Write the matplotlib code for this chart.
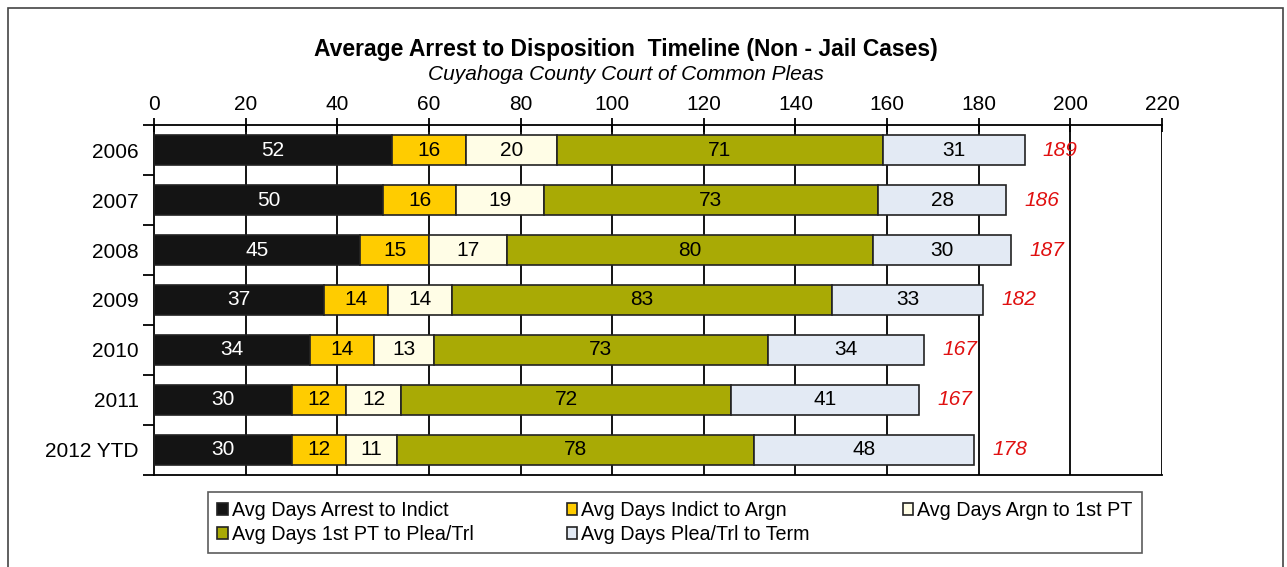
import numpy as np
import matplotlib.pyplot as plt
from matplotlib.patches import Rectangle

plt.rcParams['font.family'] = ['Liberation Sans', 'DejaVu Sans']

years = ["2006", "2007", "2008", "2009", "2010", "2011", "2012 YTD"]
arrest_to_indict = [52, 50, 45, 37, 34, 30, 30]
indict_to_argn = [16, 16, 15, 14, 14, 12, 12]
argn_to_1st_pt = [20, 19, 17, 14, 13, 12, 11]
pt_to_plea = [71, 73, 80, 83, 73, 72, 78]
plea_to_term = [31, 28, 30, 33, 34, 41, 48]
totals = [189, 186, 187, 182, 167, 167, 178]

series = [
    ("Avg Days Arrest to Indict", arrest_to_indict, "#141414", "white"),
    ("Avg Days Indict to Argn", indict_to_argn, "#FFCC00", "black"),
    ("Avg Days Argn to 1st PT", argn_to_1st_pt, "#FFFDE6", "black"),
    ("Avg Days 1st PT to Plea/Trl", pt_to_plea, "#A9AA05", "black"),
    ("Avg Days Plea/Trl to Term", plea_to_term, "#E3EAF4", "black"),
]

fig = plt.figure(figsize=(12.87, 5.67), dpi=100)
ax = fig.add_axes([0.1197, 0.1623, 0.9029 - 0.1197, 0.7795 - 0.1623])

y = np.arange(len(years))
left = np.zeros(len(years))
handles = []
for name, vals, col, tcol in series:
    bars = ax.barh(y, vals, left=left, height=0.6, color=col,
                   edgecolor="#222222", linewidth=1.2, zorder=3, label=name)
    handles.append(bars)
    for yi, l, v in zip(y, left, vals):
        ax.text(l + v / 2, yi, str(v), ha="center", va="center",
                fontsize=15, color=tcol, zorder=4)
    left = left + np.array(vals)

# red italic totals past the bar ends
for yi, tot, end in zip(y, totals, left):
    ax.text(end + 4, yi, str(tot), ha="left", va="center", fontsize=15,
            color="#E01010", style="italic", zorder=4)

ax.set_xlim(0, 220)
ax.set_ylim(len(years) - 0.5, -0.5)
ax.set_xticks(np.arange(0, 221, 20))
ax.xaxis.tick_top()
ax.tick_params(axis="x", direction="inout", length=10, width=1.3,
               labelsize=15, pad=3)
ax.set_yticks(y)
ax.set_yticklabels(years)
ax.set_yticks(np.arange(-0.5, len(years)), minor=True)
ax.tick_params(axis="y", which="major", length=0, labelsize=15, pad=11)
ax.tick_params(axis="y", which="minor", length=8, width=1.3, direction="out")
for xv in np.arange(20, 221, 20):
    ax.axvline(xv, color="black", lw=1.3, zorder=1)
ax.spines["right"].set_visible(False)
for s in ["top", "bottom", "left"]:
    ax.spines[s].set_linewidth(1.3)

fig.text(0.486, 0.913, "Average Arrest to Disposition  Timeline (Non - Jail Cases)",
         ha="center", va="center", fontsize=16.5, fontweight="bold")
fig.text(0.486, 0.869, "Cuyahoga County Court of Common Pleas",
         ha="center", va="center", fontsize=15, style="italic")

order = [0, 3, 1, 4, 2]
leg = fig.legend([handles[i] for i in order], [series[i][0] for i in order],
                 ncol=3, loc="center", bbox_to_anchor=(0.5245, 0.078),
                 fontsize=14.2, frameon=True, fancybox=False, edgecolor="#333333",
                 handlelength=0.55, handleheight=0.55, handletextpad=0.2,
                 columnspacing=4.7, labelspacing=0.25, borderpad=0.45)
leg.get_frame().set_linewidth(1.2)

fig.patches.append(Rectangle((0.006, -0.01), 0.991, 0.996, transform=fig.transFigure,
                             fill=False, edgecolor="#444444", lw=1.2))

fig.savefig("out.png", dpi=100)
